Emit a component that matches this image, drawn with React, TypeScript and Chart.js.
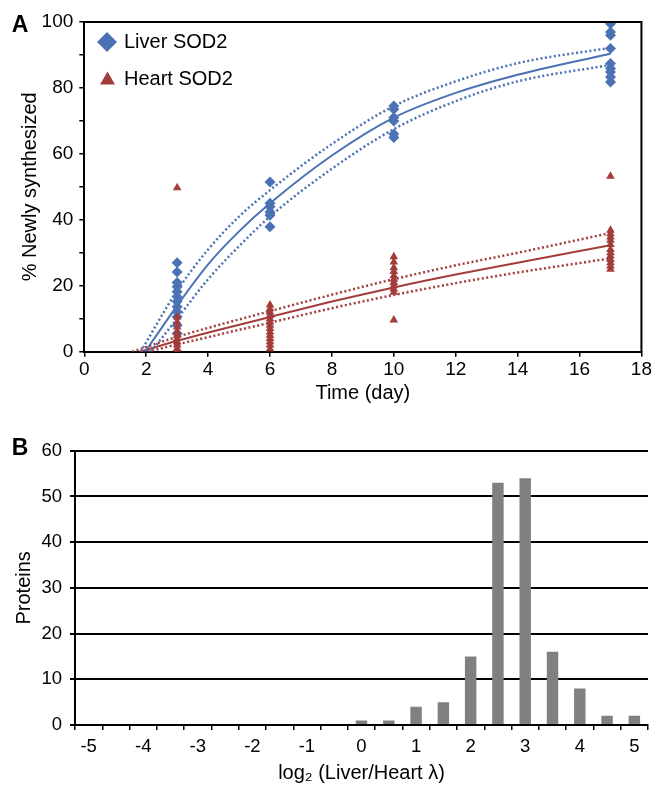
import React, { useEffect, useRef } from 'react';
import { Chart, registerables } from 'chart.js';

Chart.register(...registerables);

const FONT = '"Liberation Sans", Arial, Helvetica, sans-serif';
const BLUE = '#4A72B4';
const RED = '#A23D3B';
const GRAY = '#808080';

// ---- Panel A: scatter data (% newly synthesized vs time) ----
const liverDays = [3, 3, 3, 3, 3, 3, 3, 3, 3, 3, 3, 3, 6, 6, 6, 6, 6, 6, 10, 10, 10, 10, 10, 10, 17, 17, 17, 17, 17, 17, 17, 17, 17];
const liverPct = [27, 24.2, 21, 19.7, 18.2, 16.7, 15.2, 13.6, 12.1, 10.6, 8, 5.5, 51.5, 45, 44, 42.4, 41.4, 37.9, 74.5, 73.5, 71, 70, 66, 65, 99.5, 97, 96, 92, 87.4, 85.9, 84.8, 83.3, 81.8];

const heartDays = [3, 3, 3, 3, 3, 3, 3, 3, 3, 3, 3, 6, 6, 6, 6, 6, 6, 6, 6, 6, 6, 6, 6, 6, 6, 10, 10, 10, 10, 10, 10, 10, 10, 10, 10, 10, 17, 17, 17, 17, 17, 17, 17, 17, 17, 17, 17, 17, 17];
const heartPct = [49.7, 10.5, 9, 7.5, 6, 5, 4, 3, 2, 1, 0.3, 14.2, 13, 12, 11, 10, 9, 8, 7, 6, 5, 4, 3, 2, 0.8, 28.8, 27.2, 25.5, 24.3, 23, 22, 21, 20, 19, 18, 9.6, 53.2, 36.8, 35.8, 34.8, 33.8, 32.5, 31, 30, 29, 28, 27, 26, 25];

// fitted curves
const liverFitDays = [1.97, 3, 4, 5, 6, 8, 10, 12, 14, 17];
const liverFit = [0, 14, 26.5, 36.5, 45, 59.5, 71, 78.5, 84, 90.4];
const liverUpDays = [1.82, 3, 4, 5, 6, 8, 10, 12, 14, 17];
const liverUp = [0, 18.5, 31, 41, 49, 63, 74.5, 82, 87.5, 92.2];
const liverLoDays = [2.15, 3, 4, 5, 6, 8, 10, 12, 14, 17];
const liverLo = [0, 10, 22, 32, 41, 55.5, 67.5, 76, 82, 87];

const heartFitDays = [1.8, 3, 6, 8, 10, 12, 14, 17];
const heartFit = [0, 3.3, 10.5, 15.2, 19.5, 23.4, 27, 32.3];
const heartUpDays = [1.55, 3, 6, 8, 10, 12, 14, 17];
const heartUp = [0, 4.5, 12.3, 17.3, 22, 26.2, 30, 36];
const heartLoDays = [2.05, 3, 6, 8, 10, 12, 14, 17];
const heartLo = [0, 2.2, 8.8, 13.2, 17.2, 20.8, 24, 28.3];

// ---- Panel B: histogram ----
const histBins = ['-5', '-4.5', '-4', '-3.5', '-3', '-2.5', '-2', '-1.5', '-1', '-0.5', '0', '0.5', '1', '1.5', '2', '2.5', '3', '3.5', '4', '4.5', '5'];
const histCounts = [0, 0, 0, 0, 0, 0, 0, 0, 0, 0, 1, 1, 4, 5, 15, 53, 54, 16, 8, 2, 2];
const histTickLabels = ['-5', '-4', '-3', '-2', '-1', '0', '1', '2', '3', '4', '5'];

const zip = (xs: number[], ys: number[]) => xs.map((x, i) => ({ x, y: ys[i] }));

const lineDs = (xs: number[], ys: number[], color: string, dotted: boolean) => ({
  type: 'line' as const,
  data: zip(xs, ys),
  borderColor: color,
  backgroundColor: color,
  borderWidth: dotted ? 2.5 : 2,
  borderDash: dotted ? [2, 2.5] : [],
  pointRadius: 0,
  fill: false,
  cubicInterpolationMode: 'monotone' as const,
});

const panelLetter = (letter: string, x: number, y: number) => ({
  id: 'letter' + letter,
  afterDraw(chart: any) {
    const ctx = chart.ctx;
    ctx.save();
    ctx.font = `bold 23px ${FONT}`;
    ctx.fillStyle = '#000';
    ctx.textAlign = 'center';
    ctx.textBaseline = 'middle';
    ctx.fillText(letter, x, y);
    ctx.restore();
  },
});

const boxPlugin = {
  id: 'boxA',
  afterDraw(chart: any) {
    const { ctx, chartArea } = chart;
    ctx.save();
    ctx.strokeStyle = '#000';
    ctx.lineWidth = 2;
    ctx.beginPath();
    ctx.moveTo(chartArea.left, chartArea.top);
    ctx.lineTo(chartArea.right, chartArea.top);
    ctx.lineTo(chartArea.right, chartArea.bottom);
    ctx.stroke();
    ctx.restore();
  },
};

const legendPlugin = {
  id: 'legendA',
  afterDraw(chart: any) {
    const ctx = chart.ctx;
    ctx.save();
    // diamond
    ctx.fillStyle = BLUE;
    ctx.beginPath();
    ctx.moveTo(107, 32);
    ctx.lineTo(117, 42);
    ctx.lineTo(107, 52);
    ctx.lineTo(97, 42);
    ctx.closePath();
    ctx.fill();
    // triangle
    ctx.fillStyle = RED;
    ctx.beginPath();
    ctx.moveTo(107.5, 71.5);
    ctx.lineTo(115, 84.5);
    ctx.lineTo(100, 84.5);
    ctx.closePath();
    ctx.fill();
    ctx.fillStyle = '#000';
    ctx.font = `20px ${FONT}`;
    ctx.textAlign = 'left';
    ctx.textBaseline = 'middle';
    ctx.fillText('Liver SOD2', 124, 42);
    ctx.fillText('Heart SOD2', 124, 79);
    ctx.restore();
  },
};

function PanelA() {
  const ref = useRef<HTMLCanvasElement>(null);
  useEffect(() => {
    const chart = new Chart(ref.current as HTMLCanvasElement, {
      type: 'scatter',
      data: {
        datasets: [
          {
            label: 'Heart SOD2',
            data: zip(heartDays, heartPct),
            pointStyle: 'triangle',
            pointRadius: 5,
            backgroundColor: RED,
            borderColor: RED,
            borderWidth: 0,
          },
          {
            label: 'Liver SOD2',
            data: zip(liverDays, liverPct),
            pointStyle: 'rectRot',
            pointRadius: 5.5,
            backgroundColor: BLUE,
            borderColor: BLUE,
            borderWidth: 0,
          },
          lineDs(liverFitDays, liverFit, BLUE, false),
          lineDs(liverUpDays, liverUp, BLUE, true),
          lineDs(liverLoDays, liverLo, BLUE, true),
          lineDs(heartFitDays, heartFit, RED, false),
          lineDs(heartUpDays, heartUp, RED, true),
          lineDs(heartLoDays, heartLo, RED, true),
        ] as any,
      },
      options: {
        animation: false,
        responsive: false,
        layout: { padding: { top: 22, right: 12.3, left: 0, bottom: 0 } },
        plugins: { legend: { display: false }, tooltip: { enabled: false } },
        scales: {
          x: {
            type: 'linear',
            min: 0,
            max: 18,
            ticks: { stepSize: 2, color: '#000', font: { family: FONT, size: 19 }, padding: 2, maxRotation: 0 },
            grid: { drawOnChartArea: false, drawTicks: true, tickLength: 5, color: '#000', lineWidth: 1.5 },
            border: { display: true, color: '#000', width: 2 },
            title: { display: true, text: 'Time (day)', color: '#000', font: { family: FONT, size: 20 }, padding: { top: 0, bottom: 0 } },
            afterFit: (s: any) => { s.height = 53.3; },
          },
          y: {
            min: 0,
            max: 100,
            ticks: {
              stepSize: 10,
              color: '#000',
              font: { family: FONT, size: 19 },
              padding: 6,
              callback: (v: any) => (Number(v) % 20 === 0 ? String(v) : ''),
            },
            grid: { drawOnChartArea: false, drawTicks: true, tickLength: 5, color: '#000', lineWidth: 1.5 },
            border: { display: true, color: '#000', width: 2 },
            title: { display: true, text: '% Newly synthesized', color: '#000', font: { family: FONT, size: 20 }, padding: { top: 18, bottom: 0 } },
            afterFit: (s: any) => { s.width = 84.3; },
          },
        },
      },
      plugins: [boxPlugin, legendPlugin, panelLetter('A', 20, 26)],
    } as any);
    return () => chart.destroy();
  }, []);
  return <canvas ref={ref} width={654} height={405} style={{ display: 'block' }} />;
}

function PanelB() {
  const ref = useRef<HTMLCanvasElement>(null);
  useEffect(() => {
    const chart = new Chart(ref.current as HTMLCanvasElement, {
      type: 'bar',
      data: {
        labels: histBins,
        datasets: [
          {
            data: histCounts,
            backgroundColor: GRAY,
            borderWidth: 0,
            categoryPercentage: 1,
            barPercentage: 0.42,
          },
        ],
      },
      options: {
        animation: false,
        responsive: false,
        layout: { padding: { top: 45.7, right: 6, left: 0, bottom: 0 } },
        plugins: { legend: { display: false }, tooltip: { enabled: false } },
        scales: {
          x: {
            ticks: {
              autoSkip: false,
              maxRotation: 0,
              color: '#000',
              font: { family: FONT, size: 18.5 },
              padding: 6,
              callback: (_v: any, i: number) => (histTickLabels.includes(histBins[i]) ? histBins[i] : ''),
            },
            grid: { offset: true, drawOnChartArea: false, drawTicks: true, tickLength: 5, color: '#000', lineWidth: 1.5 },
            border: { display: true, color: '#000', width: 2 },
            title: { display: true, text: 'log\u2082 (Liver/Heart \u03BB)', color: '#000', font: { family: FONT, size: 20 }, padding: { top: 0, bottom: 3 } },
            afterFit: (s: any) => { s.height = 63; },
          },
          y: {
            min: 0,
            max: 60,
            ticks: { stepSize: 10, color: '#000', font: { family: FONT, size: 18.5 }, padding: 8 },
            grid: { color: '#000', lineWidth: 2, drawTicks: true, tickLength: 5 },
            border: { display: true, color: '#000', width: 2 },
            title: { display: true, text: 'Proteins', color: '#000', font: { family: FONT, size: 20 }, padding: { top: 12, bottom: 0 } },
            afterFit: (s: any) => { s.width = 75; },
          },
        },
      },
      plugins: [panelLetter('B', 20, 44)],
    } as any);
    return () => chart.destroy();
  }, []);
  return <canvas ref={ref} width={654} height={383} style={{ display: 'block' }} />;
}

export default function App() {
  return (
    <div style={{ position: 'absolute', left: 0, top: 0, width: 654, height: 788, background: '#fff' }}>
      <PanelA />
      <PanelB />
    </div>
  );
}
